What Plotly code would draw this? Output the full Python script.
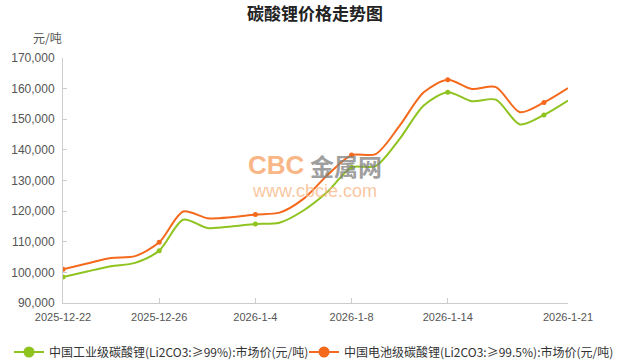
import plotly.graph_objects as go

dates = ["2025-12-22", "2025-12-23", "2025-12-24", "2025-12-25", "2025-12-26",
         "2025-12-29", "2025-12-30", "2025-12-31", "2026-1-4", "2026-1-5",
         "2026-1-6", "2026-1-7", "2026-1-8", "2026-1-9", "2026-1-12",
         "2026-1-13", "2026-1-14", "2026-1-15", "2026-1-16", "2026-1-19",
         "2026-1-20", "2026-1-21"]

industrial = [98500, 100300, 102000, 103100, 107100, 117200, 114500, 115000,
              115800, 116200, 120200, 126300, 134300, 134700, 143600, 154500,
              158800, 155900, 156400, 148300, 151400, 156100]

battery = [101000, 102900, 104700, 105300, 109800, 119900, 117700, 118000,
           118900, 119500, 124000, 131800, 138300, 138600, 147900, 158800,
           162900, 159900, 160500, 152300, 155500, 160200]

tick_labels = ["2025-12-22", "2025-12-26", "2026-1-4", "2026-1-8", "2026-1-14", "2026-1-21"]

name_ind = "中国工业级碳酸锂(Li2CO3:≥99%):市场价(元/吨)"
name_bat = "中国电池级碳酸锂(Li2CO3:≥99.5%):市场价(元/吨)"

GREEN = "#8fc31f"
ORANGE = "#f4691c"

idx = list(range(len(dates)))
mark_idx = [i for i in idx if i % 4 == 0]

fig = go.Figure()
for vals, color, name, leg in [(industrial, GREEN, name_ind, "legend"),
                               (battery, ORANGE, name_bat, "legend2")]:
    fig.add_trace(go.Scatter(
        x=idx, y=vals, mode="lines", showlegend=False,
        line=dict(color=color, width=2, shape="spline", smoothing=0.8),
        hoverinfo="skip"))
    fig.add_trace(go.Scatter(
        x=[i for i in mark_idx], y=[vals[i] for i in mark_idx], mode="markers",
        showlegend=False, marker=dict(color=color, size=5), hoverinfo="skip"))
    fig.add_trace(go.Scatter(
        x=[None], y=[None], mode="lines+markers", name=name, legend=leg,
        line=dict(color=color, width=2), marker=dict(color=color, size=11)))

axis_font = dict(family="Liberation Sans, Arial, sans-serif", color="#555555")
leg_font = dict(family="Noto Sans CJK SC", size=12, color="#333333")

fig.update_layout(
    template="none",
    width=630, height=360,
    margin=dict(l=63, r=62, t=58, b=57, autoexpand=False),
    paper_bgcolor="white", plot_bgcolor="white",
    title=dict(text="<b>碳酸锂价格走势图</b>", x=0.5, xanchor="center",
               y=1 - 14 / 360, yanchor="middle", yref="container",
               font=dict(family="Noto Sans CJK SC", size=17, color="#222222")),
    xaxis=dict(
        range=[0, 21], tickmode="array", automargin=False,
        tickvals=[dates.index(t) for t in tick_labels], ticktext=tick_labels,
        showgrid=False, zeroline=False, showline=True, linecolor="#cccccc",
        linewidth=1, ticks="inside", ticklen=5, tickcolor="#cccccc",
        tickfont=dict(size=11, **axis_font), ticklabelstandoff=4),
    yaxis=dict(
        range=[90000, 170000], dtick=10000, tickformat=",", automargin=False,
        showgrid=False, zeroline=False, showline=True, linecolor="#cccccc",
        linewidth=1, ticks="inside", ticklen=4, tickcolor="#cccccc",
        tickfont=dict(size=12, **axis_font), ticklabelstandoff=5),
    legend=dict(orientation="h", xref="container", yref="container",
                x=9 / 630, xanchor="left", y=8 / 360, yanchor="middle",
                font=leg_font, bgcolor="rgba(0,0,0,0)"),
    legend2=dict(orientation="h", xref="container", yref="container",
                 x=304 / 630, xanchor="left", y=8 / 360, yanchor="middle",
                 font=leg_font, bgcolor="rgba(0,0,0,0)"),
    annotations=[
        dict(text="元/吨", xref="paper", yref="paper", x=-0.03, y=1 + 20 / 245,
             xanchor="center", yanchor="middle", showarrow=False,
             font=dict(family="Noto Sans CJK SC", size=12, color="#555555")),
        dict(text="<b>CBC</b>", xref="paper", yref="paper",
             x=(276 - 63) / 505, y=(303 - 165) / 245, xanchor="center", yanchor="middle",
             showarrow=False, opacity=0.75,
             font=dict(family="Liberation Sans, Arial", size=26, color="#f7a061")),
        dict(text="<b>金属网</b>", xref="paper", yref="paper",
             x=(346 - 63) / 505, y=(303 - 165) / 245, xanchor="center", yanchor="middle",
             showarrow=False, opacity=0.75,
             font=dict(family="Noto Sans CJK SC", size=24, color="#7f7f7f")),
        dict(text="www.cbcie.com", xref="paper", yref="paper",
             x=(314 - 63) / 505, y=(303 - 191) / 245, xanchor="center", yanchor="middle",
             showarrow=False, opacity=0.75,
             font=dict(family="Liberation Sans, Arial", size=18, color="#f9b583")),
    ],
)

fig.write_html("out.html")
